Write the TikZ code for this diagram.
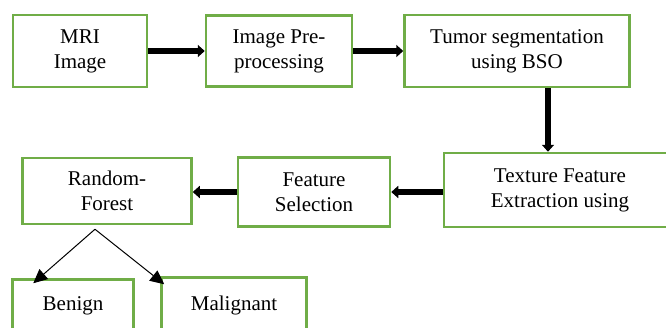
\documentclass[tikz,border=0pt]{standalone}
\usepackage{fontspec}
\setmainfont{Liberation Serif}
\newfontfamily\boxfont{Liberation Serif}
\usetikzlibrary{arrows.meta}
\definecolor{boxgreen}{HTML}{70AD47}

\begin{document}
\begin{tikzpicture}[%
					x=1pt, y=-1pt,
					box/.style={%
						draw=boxgreen,
						line width=2.5pt,
						align=center,
						inner sep=0pt,
						font=\boxfont\fontsize{21}{25}\selectfont
					},
					flow/.style={line width=5.5pt, -{Triangle[length=7pt,width=12pt]}},
					branch/.style={line width=1pt, -{Triangle[length=14pt,width=13pt]}}
				]

				\useasboundingbox (0, 0) rectangle (666, 327);

				% first row
				\node (mri) [box, minimum width=134pt, minimum height=72pt] at (80, 51) {MRI\\Image};
				\node (preprocessing) [box, minimum width=146pt, minimum height=71pt] at (279, 51) {Image Pre-\\processing};
				\node (segmentation) [box, minimum width=225pt, minimum height=72pt] at (517, 51) {Tumor segmentation\\using BSO};

				% second row
				\node (texture) [box, minimum width=232pt, minimum height=74pt] at (560, 190) {Texture Feature\\Extraction using};
				\node (selection) [box, minimum width=152pt, minimum height=69pt] at (314, 192) {Feature\\Selection};
				\node (forest) [box, minimum width=169pt, minimum height=66pt] at (107, 191) {Random-\\Forest};

				% classes
				\node (benign) [box, minimum width=121pt, minimum height=53pt] at (73, 306) {Benign};
				\node (malignant) [box, minimum width=145pt, minimum height=55pt] at (234, 305) {Malignant};

				\draw[flow] (mri.east) -- (preprocessing.west);
				\draw[flow] (preprocessing.west -| preprocessing.east) -- (segmentation.west);
				\draw[flow] ([xshift=31pt]segmentation.south) -- ([xshift=31pt]segmentation.south |- texture.north);
				\draw[flow] (texture.west |- selection.east) -- (selection.east);
				\draw[flow] (selection.west) -- (selection.west -| forest.east);

				% \coordinate for the split below the forest
				\coordinate (split) at ([xshift=-12pt, yshift=-4pt]forest.south);
				\draw[branch] (split) -- ([xshift=22pt, yshift=-5pt]benign.north west);
				\draw[branch] (split) -- ([xshift=4pt, yshift=-8pt]malignant.north west);
			\end{tikzpicture}
\end{document}
